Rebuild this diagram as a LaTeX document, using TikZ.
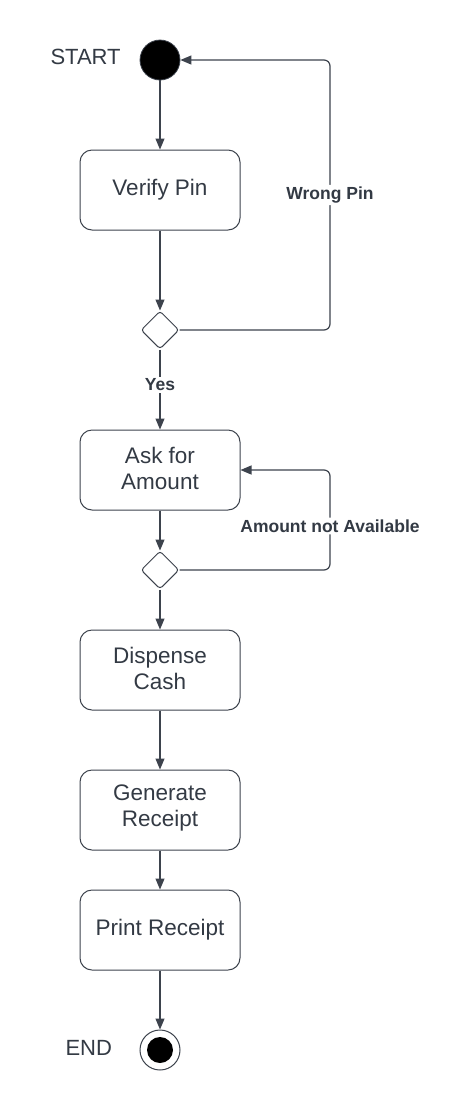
\documentclass[tikz,border=0pt]{standalone}
\usepackage{fontspec}
\setmainfont{Liberation Sans}
\usetikzlibrary{arrows.meta,shapes.geometric}
\definecolor{ln}{HTML}{3D434D}
\definecolor{tx}{HTML}{333A44}
\begin{document}
\begin{tikzpicture}[x=1pt,y=-1pt,
  act/.style={draw=ln,line width=1pt,rounded corners=12pt,minimum width=160pt,minimum height=80pt,align=center,font=\fontsize{22.5}{26}\selectfont,text=tx,inner sep=0pt},
  txt/.style={align=center,font=\fontsize{22.5}{26}\selectfont,text=tx,inner sep=0pt},
  dec/.style={draw=ln,line width=1pt,diamond,rounded corners=3pt,minimum width=38pt,minimum height=38pt,inner sep=0pt},
  flow/.style={draw=ln,line width=1.2pt,-{Triangle[length=11pt,width=9pt]}},
  lab/.style={font=\bfseries\fontsize{17.5}{20}\selectfont,text=tx,fill=white,inner sep=2pt},
  side/.style={font=\fontsize{22}{24}\selectfont,text=tx}]
\useasboundingbox (0,0) rectangle (461,1120);
\fill[white] (0,0) rectangle (461,1120);
\node[circle,fill=black,draw=ln,line width=0.8pt,minimum size=40pt,inner sep=0pt] (start) at (160,60) {};
\node[side,anchor=west] (startl) at (47,57) {START};
\node[act] (verify) at (160,190) {Verify Pin};
\node[dec] (d1) at (160,330) {};
\node[act] (ask) at (160,470) {};
\node[txt] (askt) at (160,468) {Ask for\\Amount};
\node[dec] (d2) at (160,570) {};
\node[act] (disp) at (160,670) {};
\node[txt] (dispt) at (160,668) {Dispense\\Cash};
\node[act] (gen) at (160,810) {};
\node[txt] (gent) at (160,808) {Generate\\Receipt};
\node[act] (print) at (160,930) {Print Receipt};
\node[circle,draw=ln,line width=1pt,minimum size=40pt,inner sep=0pt] (end) at (160,1050) {};
\node[circle,fill=black,minimum size=26pt,inner sep=0pt] (endin) at (160,1050) {};
\node[side,anchor=west] (endl) at (62,1048) {END};
\coordinate (c1) at (330,330);
\coordinate (c2) at (330,60);
\coordinate (c3) at (330,570);
\coordinate (c4) at (330,470);
\draw[flow] (start) -- (verify);
\draw[flow] (verify) -- (d1);
\draw[flow] (d1) -- node[lab,pos=0.44] (yes) {Yes} (ask);
\draw[flow,rounded corners=6pt] (d1.east) -- (c1) -- node[lab,pos=0.5] (wp) {Wrong Pin} (c2) -- (start.east);
\draw[flow] (ask) -- (d2);
\draw[flow,rounded corners=6pt] (d2.east) -- (c3) -- node[lab,pos=0.44] (na) {Amount not Available} (c4) -- (ask.east |- c4);
\draw[flow] (d2) -- (disp);
\draw[flow] (disp) -- (gen);
\draw[flow] (gen) -- (print);
\draw[flow] (print) -- (end);
\end{tikzpicture}
\end{document}
